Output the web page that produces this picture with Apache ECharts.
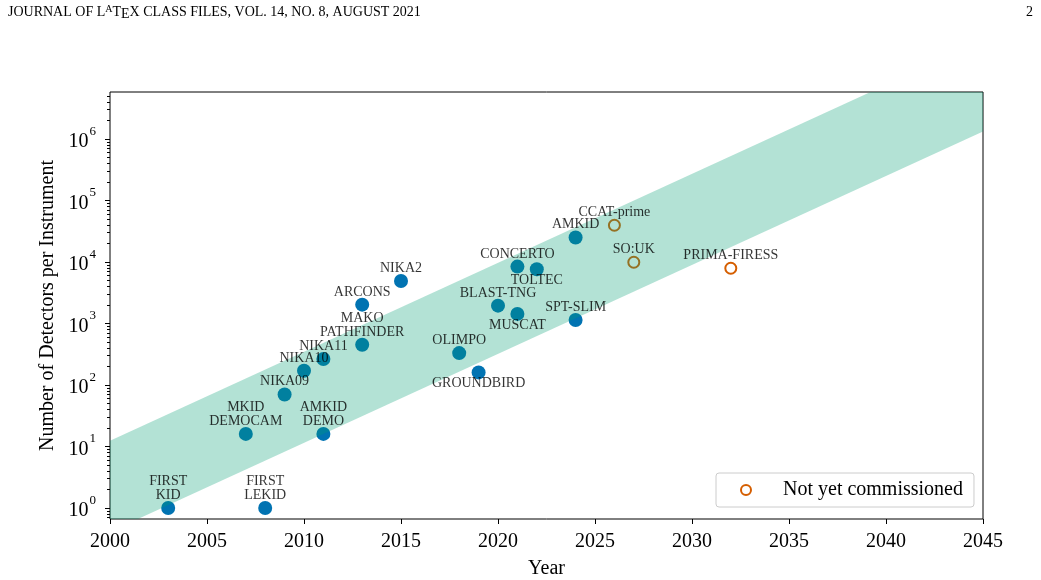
<!DOCTYPE html>
<html>
<head>
<meta charset="utf-8">
<title>Detectors per instrument</title>
<script src="https://cdn.jsdelivr.net/npm/echarts@6/dist/echarts.min.js"></script>
<style>
	html, body { margin: 0; padding: 0; background: #fff; }
	#chart { width: 1041px; height: 580px; }
</style>
</head>
<body>
<div id="chart"></div>
<script>
// instruments already on sky
var doneNames = ['FIRST\nKID', 'FIRST\nLEKID', 'MKID\nDEMOCAM', 'AMKID\nDEMO', 'NIKA09', 'NIKA10', 'NIKA11',
	'MAKO\nPATHFINDER', 'ARCONS', 'NIKA2', 'OLIMPO', 'GROUNDBIRD', 'BLAST-TNG', 'MUSCAT', 'CONCERTO',
	'TOLTEC', 'AMKID', 'SPT-SLIM'];
var doneYears = [2003, 2008, 2007, 2011, 2009, 2010, 2011, 2013, 2013, 2015, 2018, 2019, 2020, 2021, 2021, 2022, 2024, 2024];
var doneCounts = [1, 1, 16, 16, 70, 170, 265, 450, 2024, 4900, 330, 160, 1950, 1430, 8400, 7600, 25000, 1140];

// not yet commissioned
var futureNames = ['CCAT-prime', 'SO:UK', 'PRIMA-FIRESS'];
var futureYears = [2026, 2027, 2032];
var futureCounts = [39500, 9900, 7900];

// trend band (edges straight in log space)
var bandYears = [2000, 2045];
var bandLower = [0.41, 1.32e6];
var bandUpper = [12.4, 4.0e7];

var yMajorTicks = [1, 10, 100, 1e3, 1e4, 1e5, 1e6];

var serif = "'Liberation Serif', 'DejaVu Serif', serif";
var belowLabels = ['GROUNDBIRD', 'MUSCAT', 'TOLTEC'];

function minor_ticks() {
	var out = [];
	for (var p = -1; p <= 6; p++) {
		for (var m = 2; m <= 9; m++) {
			out.push(m * Math.pow(10, p));
		}
	}
	return out;
}

function make_points(names, years, counts) {
	return names.map(function(n, i) {
		var item = { name: n, value: [years[i], counts[i]] };
		if (belowLabels.indexOf(n) >= 0) {
			item.label = { position: 'bottom', distance: -3 };
		}
		return item;
	});
}

// labels go in their own series so they sit above the band
function label_series(names, years, counts) {
	return {
		type: 'scatter',
		name: 'labels',
		z: 5,
		silent: true,
		symbol: 'circle',
		symbolSize: 14,
		itemStyle: { color: 'rgba(0,0,0,0)' },
		label: {
			show: true,
			position: 'top',
			distance: -1.3,
			formatter: '{b}',
			fontFamily: serif,
			fontSize: 14,
			lineHeight: 14,
			color: '#000',
		},
		data: make_points(names, years, counts),
	};
}

function render_band(params, api) {
	var pts = [
		api.coord([bandYears[0], bandLower[0]]),
		api.coord([bandYears[1], bandLower[1]]),
		api.coord([bandYears[1], bandUpper[1]]),
		api.coord([bandYears[0], bandUpper[0]]),
	];
	return {
		type: 'polygon',
		shape: { points: pts },
		style: { fill: 'rgba(2,158,115,0.3)' },
	};
}

var chart = echarts.init(document.getElementById('chart'), null, { renderer: 'canvas' });

var option = {
	backgroundColor: '#fff',
	animation: false,
	title: [
		{
			left: 8,
			top: 3,
			padding: 0,
			text: '{n|JOURNAL OF L}{a|A}{n|T}{e|E}{n|X CLASS FILES, VOL. 14, NO. 8, AUGUST 2021}',
			textStyle: {
				fontWeight: 'normal',
				rich: {
					n: { fontFamily: serif, fontSize: 14, fontWeight: 'normal', lineHeight: 18, color: '#000' },
					a: { fontFamily: serif, fontSize: 10, fontWeight: 'normal', lineHeight: 10, padding: [0, 0, 6, 0], color: '#000' },
					e: { fontFamily: serif, fontSize: 14, fontWeight: 'normal', lineHeight: 14, padding: [5, 0, 0, 0], color: '#000' },
				},
			},
		},
		{
			right: 8,
			top: 3,
			padding: 0,
			text: '2',
			textStyle: { fontFamily: serif, fontSize: 14, fontWeight: 'normal', color: '#000', lineHeight: 18 },
		},
	],
	legend: {
		data: ['Not yet commissioned'],
		left: 716,
		top: 473,
		padding: [7, 11, 7, 24],
		backgroundColor: 'rgba(255,255,255,0.8)',
		borderColor: '#cccccc',
		borderWidth: 1,
		borderRadius: 3,
		itemWidth: 10,
		itemHeight: 10,
		itemStyle: { color: 'rgba(0,0,0,0)', borderColor: '#d55e00', borderWidth: 2 },
		textStyle: { fontFamily: serif, fontSize: 20, color: '#000', padding: [0, 0, 0, 27] },
	},
	grid: {
		left: 110,
		right: 58,
		top: 92,
		bottom: 61,
		outerBoundsMode: 'none',
		containLabel: false,
		show: true,
		borderColor: '#000',
		borderWidth: 1,
	},
	xAxis: {
		type: 'value',
		min: 2000,
		max: 2045,
		interval: 5,
		name: 'Year',
		nameLocation: 'middle',
		nameGap: 40,
		nameTextStyle: { fontFamily: serif, fontSize: 20, color: '#000' },
		axisLine: { show: false },
		axisTick: { show: true, length: 5, lineStyle: { color: '#000', width: 1 } },
		axisLabel: {
			fontFamily: serif,
			fontSize: 20,
			color: '#000',
			margin: 13,
			formatter: function(v) {
				return String(v);
			},
		},
		splitLine: { show: false },
	},
	yAxis: [
		{
			type: 'log',
			logBase: 10,
			min: 0.662,
			max: 5.8e6,
			name: 'Number of Detectors per Instrument',
			nameLocation: 'middle',
			nameGap: 52,
			nameTextStyle: { fontFamily: serif, fontSize: 20, color: '#000' },
			axisLine: { show: false },
			axisTick: { show: true, length: 5, customValues: yMajorTicks, lineStyle: { color: '#000', width: 1 } },
			axisLabel: {
				customValues: yMajorTicks,
				margin: 14,
				formatter: function(v) {
					return '{b|10}{s|' + Math.round(Math.log10(v)) + '}';
				},
				rich: {
					b: { fontFamily: serif, fontSize: 20, lineHeight: 20, padding: [6, 0, 0, 0], color: '#000' },
					s: { fontFamily: serif, fontSize: 13, lineHeight: 13, padding: [0, 0, 15, 1], color: '#000' },
				},
			},
			splitLine: { show: false },
		},
		{
			// minor ticks only
			type: 'log',
			logBase: 10,
			min: 0.662,
			max: 5.8e6,
			position: 'left',
			axisLine: { show: false },
			axisLabel: { show: false },
			axisTick: { show: true, length: 3, customValues: minor_ticks(), lineStyle: { color: '#000', width: 1 } },
			splitLine: { show: false },
		},
	],
	series: [
		{
			type: 'scatter',
			name: 'Commissioned',
			z: 2,
			symbol: 'circle',
			symbolSize: 14,
			itemStyle: { color: '#0173b2', opacity: 1 },
			data: make_points(doneNames, doneYears, doneCounts),
		},
		{
			type: 'scatter',
			name: 'Not yet commissioned',
			z: 2,
			symbol: 'circle',
			symbolSize: 11,
			itemStyle: { color: 'rgba(0,0,0,0)', borderColor: '#d55e00', borderWidth: 2, opacity: 1 },
			data: make_points(futureNames, futureYears, futureCounts),
		},
		{
			type: 'custom',
			name: 'band',
			z: 3,
			silent: true,
			clip: true,
			renderItem: render_band,
			data: [[bandYears[0], bandLower[0]]],
		},
		label_series(doneNames, doneYears, doneCounts),
		label_series(futureNames, futureYears, futureCounts),
	],
};

chart.setOption(option);
</script>
</body>
</html>
